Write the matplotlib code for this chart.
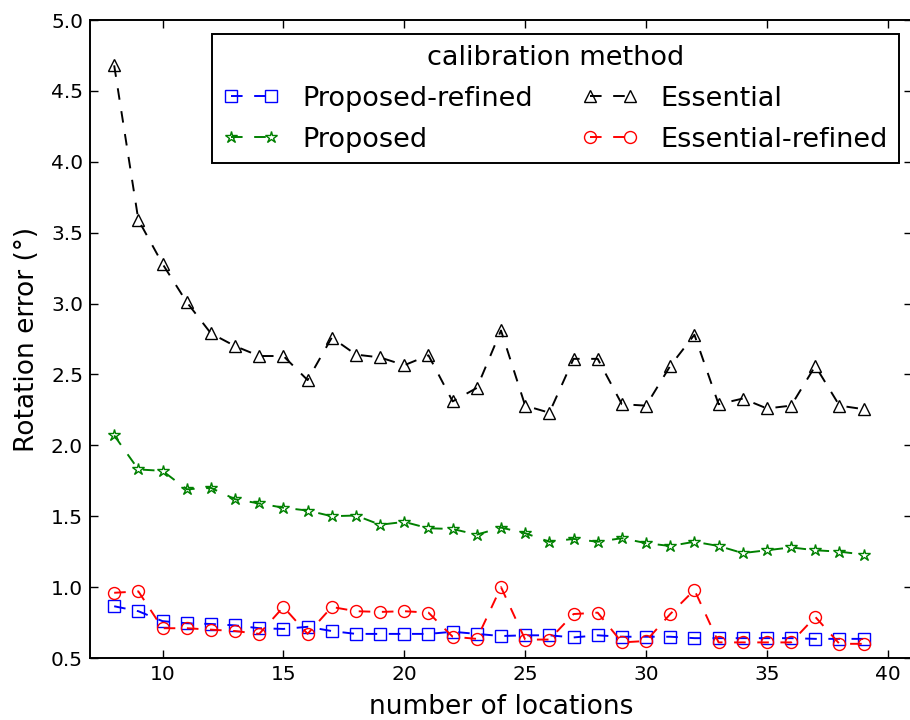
import matplotlib
matplotlib.use("Agg")
import matplotlib.pyplot as plt
import numpy as np

plt.rcParams.update({
    "font.family": "DejaVu Sans",
    "xtick.direction": "in",
    "ytick.direction": "in",
    "xtick.top": True,
    "ytick.right": True,
    "axes.linewidth": 1.4,
})

# number of locations
n_locations = list(range(8, 40))

proposed_refined = [0.865, 0.83, 0.76, 0.745, 0.74, 0.73, 0.71, 0.705, 0.72, 0.69,
                    0.67, 0.67, 0.67, 0.67, 0.685, 0.67, 0.655, 0.66, 0.66, 0.645,
                    0.66, 0.65, 0.65, 0.65, 0.64, 0.64, 0.64, 0.64, 0.64, 0.635,
                    0.635, 0.635]
proposed = [2.07, 1.83, 1.82, 1.69, 1.70, 1.62, 1.59, 1.56, 1.54, 1.50,
            1.505, 1.44, 1.46, 1.415, 1.41, 1.37, 1.42, 1.38, 1.32, 1.34,
            1.32, 1.345, 1.31, 1.29, 1.32, 1.29, 1.24, 1.26, 1.28, 1.26,
            1.25, 1.23]
essential = [4.68, 3.59, 3.28, 3.01, 2.79, 2.70, 2.63, 2.63, 2.46, 2.76,
             2.64, 2.62, 2.565, 2.635, 2.31, 2.405, 2.81, 2.28, 2.23, 2.61,
             2.61, 2.29, 2.28, 2.56, 2.78, 2.29, 2.33, 2.26, 2.28, 2.56,
             2.28, 2.255]
essential_refined = [0.96, 0.97, 0.71, 0.71, 0.70, 0.69, 0.67, 0.86, 0.67, 0.86,
                     0.83, 0.825, 0.83, 0.82, 0.65, 0.635, 1.00, 0.63, 0.63, 0.81,
                     0.82, 0.61, 0.62, 0.81, 0.98, 0.61, 0.61, 0.61, 0.61, 0.79,
                     0.60, 0.60]

series = [
    ("Proposed-refined", proposed_refined, "b", "s"),
    ("Proposed", proposed, "g", "*"),
    ("Essential", essential, "k", "^"),
    ("Essential-refined", essential_refined, "r", "o"),
]

fig = plt.figure(figsize=(9.1, 7.2), dpi=100)
ax = fig.add_axes([90 / 910, 62 / 720, 822 / 910, 638 / 720])

for label, vals, col, mk in series:
    ax.plot(n_locations, vals, color=col, ls="--", dashes=(6, 6), lw=1.39,
            marker=mk, ms=8.6, mfc="none", mec=col, mew=1.0, label=label)

ax.set_xlim(7, 41)
ax.set_ylim(0.5, 5.0)
ax.set_xticks([10, 15, 20, 25, 30, 35, 40])
ax.set_yticks(np.arange(0.5, 5.01, 0.5))
ax.yaxis.set_major_formatter(matplotlib.ticker.FormatStrFormatter("%.1f"))
ax.tick_params(which="major", length=5.5, width=1.0, pad=5, labelsize=14.5)

ax.set_xlabel("number of locations", fontsize=19, labelpad=7)
ax.set_ylabel("Rotation error (\u00b0)", fontsize=19, labelpad=8)

leg = ax.legend(loc="upper right", bbox_to_anchor=(899 / 910, 1 - 34 / 720),
                bbox_transform=fig.transFigure, borderaxespad=0,
                ncol=2, numpoints=2, title="calibration method",
                fontsize=19.5, title_fontsize=19.5, fancybox=False,
                framealpha=1, edgecolor="black", handlelength=2.08,
                handletextpad=0.85, columnspacing=1.8, labelspacing=0.55,
                borderpad=0.4)
leg.get_frame().set_linewidth(1.4)

fig.savefig("out.png", dpi=100)
